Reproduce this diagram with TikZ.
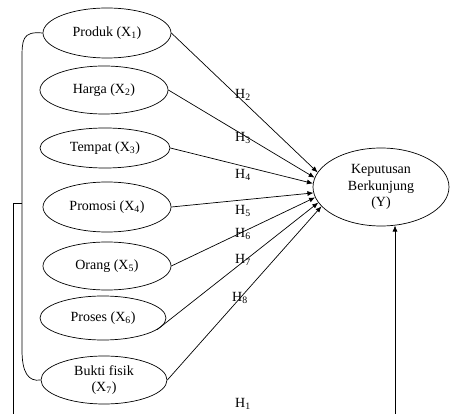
\documentclass[tikz,border=0pt]{standalone}
\usepackage{fontspec}
\setmainfont{Liberation Serif}
\usetikzlibrary{shapes.geometric,arrows.meta}
\begin{document}
\begin{tikzpicture}[x=1pt,y=-1pt,
  every node/.style={font=\fontsize{14}{16.5}\selectfont},
  var/.style={draw, ellipse, inner sep=0pt, align=center, line width=0.7pt},
  conn/.style={line width=0.7pt},
  arr/.style={conn, -{Latex[length=6pt,width=5pt]}},
  hlab/.style={inner sep=0pt}]
\useasboundingbox (0,0) rectangle (450,414);
\clip (0,0) rectangle (450,414);
% variables
\node[var, minimum width=128, minimum height=50] (p1) at (107,33) {Produk (X\textsubscript{1})};
\node[var, minimum width=128, minimum height=48] (p2) at (104,90) {Harga (X\textsubscript{2})};
\node[var, minimum width=130, minimum height=40] (p3) at (105,148) {Tempat (X\textsubscript{3})};
\node[var, minimum width=128, minimum height=50] (p4) at (107,207) {Promosi (X\textsubscript{4})};
\node[var, minimum width=128, minimum height=48] (p5) at (107,266) {Orang (X\textsubscript{5})};
\node[var, minimum width=126, minimum height=44] (p6) at (103,318) {Proses (X\textsubscript{6})};
\node[var, minimum width=126, minimum height=48] (p7) at (104,380) {Bukti fisik\\(X\textsubscript{7})};
\node[var, minimum width=136, minimum height=78] (Y) at (381,187) {Keputusan\\Berkunjung\\(Y)};
% partial arrows
\draw[arr] (p1.east) -- (Y.167);
\draw[arr] (p2.east) -- (Y.172);
\draw[arr] (p3.east) -- (Y.177);
\draw[arr] (p4.east) -- (Y.185);
\draw[arr] (p5.east) -- (Y.189);
\draw[arr] (p6.-12) -- (Y.194);
\draw[arr] (p7.east) -- (Y.198);
% bracket grouping all variables
\draw[conn] (p1.west) .. controls (22,31) and (22,40) .. (22,60) -- (22,350) .. controls (22,372) and (28,382) .. (p7.west);
\coordinate (mid) at (22,203);
\coordinate (low) at (13,430);
\draw[arr] (mid) -| (low) -| (Y.-70);
% hypothesis labels
\node[hlab] (h2) at (243,95) {H\textsubscript{2}};
\node[hlab] (h3) at (243,138) {H\textsubscript{3}};
\node[hlab] (h4) at (243,175) {H\textsubscript{4}};
\node[hlab] (h5) at (243,211) {H\textsubscript{5}};
\node[hlab] (h6) at (243,234) {H\textsubscript{6}};
\node[hlab] (h7) at (243,260) {H\textsubscript{7}};
\node[hlab] (h8) at (240,298) {H\textsubscript{8}};
\node[hlab] (h1) at (243,404) {H\textsubscript{1}};
\end{tikzpicture}
\end{document}
